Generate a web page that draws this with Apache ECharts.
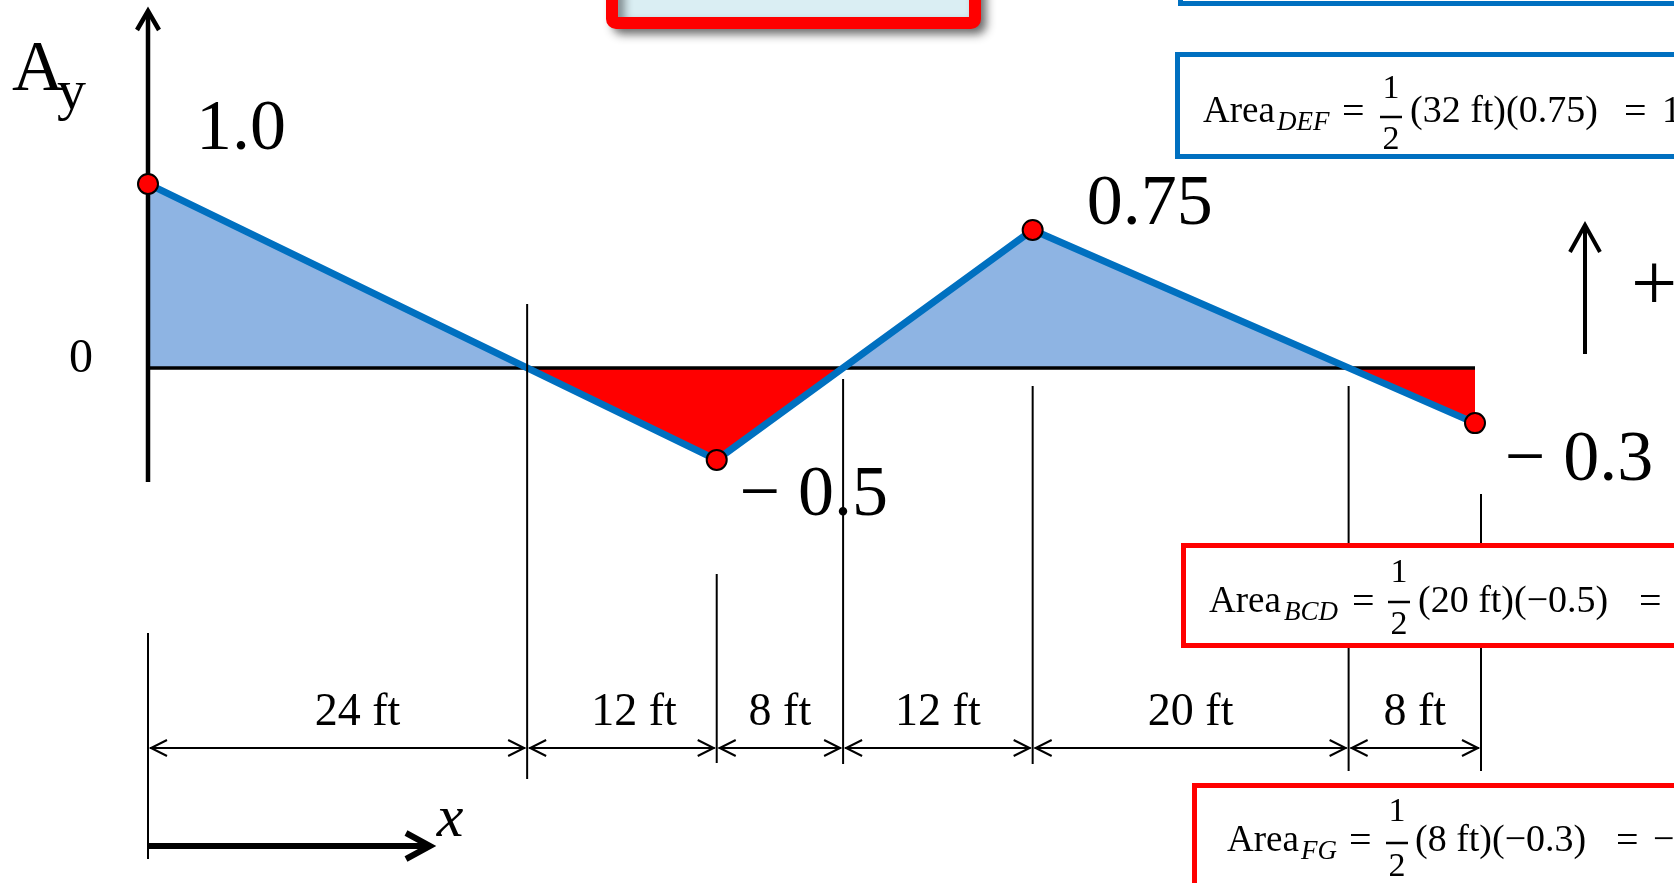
<!DOCTYPE html>
<html><head><meta charset="utf-8">
<script src="https://cdn.jsdelivr.net/npm/echarts@6/dist/echarts.min.js"></script>
<style>html,body{margin:0;padding:0;background:#fff;overflow:hidden}#c{width:1674px;height:883px}</style>
</head><body><div id="c"></div>
<script>
// ---------- data ----------
const positionsFt = [0, 24, 36, 44, 56, 76, 84];
const influenceAy = [1.0, 0, -0.5, 0, 0.75, 0, -0.3];
const pointLabels = ['1.0', '', '\u2212 0.5', '', '0.75', '', '\u2212 0.3'];
const spanLabels = ['24 ft', '12 ft', '8 ft', '12 ft', '20 ft', '8 ft'];
const areaNames = ['DEF', 'BCD', 'FG'];
const areaBases = ['(32 ft)(0.75)', '(20 ft)(\u22120.5)', '(8 ft)(\u22120.3)'];
const areaResults = ['12 ft', '\u22125 ft', '\u22121.2 ft'];
const axisZeroLabel = '0';

// ---------- styles ----------
const FONT = '"Liberation Serif", "Times New Roman", serif';
const BLUE_LINE = '#0070C0', BLUE_FILL = '#8EB4E3', RED = '#FF0000';

const chart = echarts.init(document.getElementById('c'), null, {renderer: 'canvas'});
const linePts = positionsFt.map((x, i) => [x, influenceAy[i]]);
// regions between zero crossings: [startIndex, endIndex]
const regions = [];
let start = 0;
for (let i = 1; i < influenceAy.length; i++) {
  if (influenceAy[i] === 0 || i === influenceAy.length - 1) { regions.push([start, i]); start = i; }
}
const peakIdx = influenceAy.map((v, i) => v !== 0 ? i : -1).filter(i => i >= 0);
const peakLabelOffset = {0: [93, -54], 2: [97, 36], 4: [117, -25], 6: [104, 38]};

chart.setOption({
  animation: false,
  grid: {left: 148, right: 199, top: 0, bottom: 0},
  xAxis: {type: 'value', min: 0, max: 84, show: false},
  yAxis: {type: 'value', min: -2.8, max: 2, show: false},
  series: [
    {
      type: 'custom', z: 1, silent: true, data: regions, clip: false,
      encode: {x: [0, 1]},
      renderItem: (params, api) => {
        const a = api.value(0), b = api.value(1);
        const pts = [];
        let sum = 0;
        for (let k = a; k <= b; k++) { pts.push(api.coord(linePts[k])); sum += linePts[k][1]; }
        pts.push(api.coord([linePts[b][0], 0]));
        pts.push(api.coord([linePts[a][0], 0]));
        return {type: 'polygon', shape: {points: pts}, style: {fill: sum > 0 ? BLUE_FILL : RED}};
      }
    },
    {
      type: 'line', z: 3, silent: true, symbol: 'none',
      data: [[positionsFt[0], 0], [positionsFt[positionsFt.length - 1], 0]],
      lineStyle: {color: '#000', width: 3.5}
    },
    {
      type: 'line', z: 4, silent: true, symbol: 'none', data: linePts,
      lineStyle: {color: BLUE_LINE, width: 7}
    },
    {
      type: 'scatter', z: 20, silent: true, symbolSize: 20,
      itemStyle: {color: RED, borderColor: '#000', borderWidth: 2, opacity: 1},
      label: {show: true, position: 'inside', fontFamily: FONT, fontSize: 72, color: '#000'},
      data: peakIdx.map(i => ({value: linePts[i], label: {formatter: pointLabels[i], offset: peakLabelOffset[i]}}))
    }
  ]
});

const px = v => chart.convertToPixel({gridIndex: 0}, [v, 0])[0];

const extTop = [633, 304, 574, 379, 386, 386, 494];
const extBottom = [859, 779, 763, 764, 764, 771, 771];
const extShift = [0, 0, 0, 0, 0, 0, 6];
const X = positionsFt.map((v, i) => px(v) + extShift[i]);
const spanShift = [20, 12, 0, 0, 0, 0];
const DIM_Y = 748, DIM_LABEL_Y = 713;

const g = [];
const txt = (text, x, y, size, opts = {}) => ({
  type: 'text', z: opts.z || 40, x, y,
  style: {text, fill: '#000', font: `${opts.italic ? 'italic ' : ''}${size}px ${FONT}`,
          align: opts.align || 'left', verticalAlign: 'middle'}
});
const seg = (x1, y1, x2, y2, w, z = 10) => ({type: 'line', z, shape: {x1, y1, x2, y2}, style: {stroke: '#000', lineWidth: w}});
const poly = (points, w, z = 10) => ({type: 'polyline', z, shape: {points}, style: {stroke: '#000', lineWidth: w, fill: null}});

// vertical axis with arrow
const x0 = px(0);
g.push(seg(x0, 12, x0, 482, 4.5, 6));
g.push(poly([[x0 - 11, 30], [x0, 11], [x0 + 11, 30]], 4.5, 6));
// A_y label and zero label
g.push(txt('A', 12, 71, 72));
g.push(txt('y', 57, 94, 58));
g.push(txt(axisZeroLabel, 81, 359, 48, {align: 'center'}));

// extension lines
X.forEach((x, i) => g.push(seg(x, extTop[i], x, extBottom[i], 2, 8)));
// dimension lines
for (let i = 0; i < spanLabels.length; i++) {
  const xa = X[i], xb = X[i + 1];
  g.push(seg(xa + 2, DIM_Y, xb - 2, DIM_Y, 2));
  g.push(poly([[xa + 19, DIM_Y - 8], [xa + 3, DIM_Y], [xa + 19, DIM_Y + 8]], 2));
  g.push(poly([[xb - 19, DIM_Y - 8], [xb - 3, DIM_Y], [xb - 19, DIM_Y + 8]], 2));
  g.push(txt(spanLabels[i], (xa + xb) / 2 + spanShift[i], DIM_LABEL_Y, 46, {align: 'center'}));
}
// x direction arrow
g.push(seg(x0, 846, 426, 846, 6));
g.push(poly([[406, 833], [430, 846], [406, 859]], 6));
g.push(txt('x', 450, 820, 60, {italic: true, align: 'center'}));

// positive direction arrow
g.push(seg(1585, 226, 1585, 354, 4));
g.push(poly([[1570, 252], [1585, 225], [1600, 252]], 4));
g.push(txt('+', 1631, 288, 82));

// top partial boxes
g.push({type: 'rect', z: 30, shape: {x: 612, y: -40, width: 363, height: 63, r: 4},
  style: {fill: '#DAEEF3', stroke: RED, lineWidth: 12, shadowBlur: 10, shadowOffsetX: 6, shadowOffsetY: 6, shadowColor: 'rgba(0,0,0,0.45)'}});
g.push({type: 'rect', z: 30, shape: {x: 1180.5, y: -100, width: 600, height: 103.5},
  style: {fill: '#fff', stroke: BLUE_LINE, lineWidth: 5}});

// area boxes
const boxes = [
  {rect: [1177.5, 54.5, 600, 102], color: BLUE_LINE, base: 123, area: 1203, sub: 1277, eq1: 1342, frac: 1391, one: 89, bar: 117, two: 140, body: 1410, eq2: 1624, res: 1662},
  {rect: [1183.5, 545.5, 600, 100], color: RED, base: 613, area: 1209, sub: 1284, eq1: 1352, frac: 1399, one: 573, bar: 602, two: 625, body: 1418, eq2: 1639, res: 1680},
  {rect: [1194.5, 785.5, 600, 200], color: RED, base: 852, area: 1227, sub: 1301, eq1: 1349, frac: 1397, one: 812, bar: 843, two: 867, body: 1415, eq2: 1616, res: 1653}
];
boxes.forEach((b, i) => {
  g.push({type: 'rect', z: 30, shape: {x: b.rect[0], y: b.rect[1], width: b.rect[2], height: b.rect[3]},
    style: {fill: '#fff', stroke: b.color, lineWidth: 5}});
  const mid = b.base - 11;
  g.push(txt('Area', b.area, mid, 37));
  g.push(txt(areaNames[i], b.sub, b.base, 27, {italic: true}));
  g.push(txt('=', b.eq1, mid + 1, 40));
  g.push(txt('1', b.frac, b.one, 34, {align: 'center'}));
  g.push(seg(b.frac - 11, b.bar, b.frac + 11, b.bar, 2.5, 40));
  g.push(txt('2', b.frac, b.two, 34, {align: 'center'}));
  g.push(txt(areaBases[i], b.body, mid, 38));
  g.push(txt('=', b.eq2, mid + 1, 40));
  g.push(txt(areaResults[i], b.res, mid, 38));
});

chart.setOption({graphic: {elements: g}});
</script>
</body></html>
